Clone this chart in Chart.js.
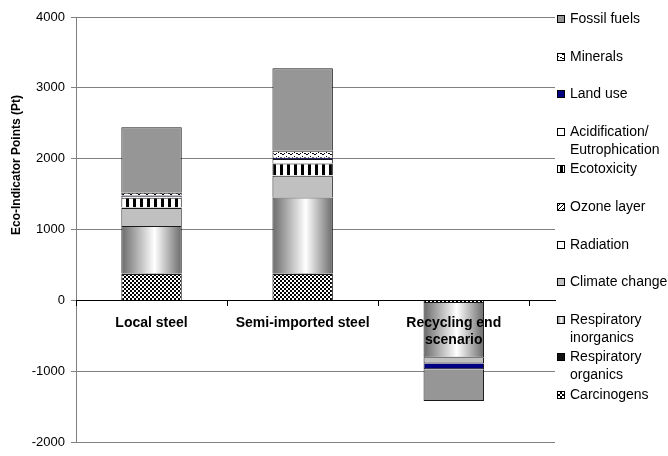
<!DOCTYPE html>
<html>
<head>
<meta charset="utf-8">
<script src="https://cdn.jsdelivr.net/npm/chart.js@4/dist/chart.umd.min.js"></script>
<style>
  html, body { margin: 0; padding: 0; background: #fff; }
  #wrap { width: 668px; height: 456px; }
</style>
</head>
<body>
<div id="wrap"><canvas id="chart" width="668" height="456"></canvas></div>
<script>
// Category labels (multi-line where the reference wraps)
const categories = ['Local steel', 'Semi-imported steel', ['Recycling end', 'scenario']];

// Stacked impact values in Pt, bottom of stack first
const carcinogens    = [375, 375, -35];
const respOrganics   = [5, 5, 0];
const respInorganics = [672, 1074, -775];
const climateChange  = [254, 306, -79];
const radiation      = [5, 5, 0];
const ozoneLayer     = [3, 3, 0];
const ecotoxicity    = [135, 163, 0];
const acidification  = [30, 65, 0];
const landUse        = [5, 18, -83];
const minerals       = [35, 97, 0];
const fossilFuels    = [927, 1167, -445];

// Legend labels, line by line
const seriesLabels = [
    ['Carcinogens'],
    ['Respiratory', 'organics'],
    ['Respiratory', 'inorganics'],
    ['Climate change'],
    ['Radiation'],
    ['Ozone layer'],
    ['Ecotoxicity'],
    ['Acidification/', 'Eutrophication'],
    ['Land use'],
    ['Minerals'],
    ['Fossil fuels']
];
const seriesValues = [carcinogens, respOrganics, respInorganics, climateChange, radiation,
    ozoneLayer, ecotoxicity, acidification, landUse, minerals, fossilFuels];

const yTicks = { min: -2000, max: 4000, step: 1000 };
const yTitle = 'Eco-Indicator Points (Pt)';

// bar width as a share of one category; x ticks sit every half category,
// so the library's sample size is half a category wide
const BAR_PCT = 0.4;
const FONT = "'Liberation Sans', Arial, sans-serif";

// small helper to build repeating fill patterns
function makePattern(w, h, draw) {
    const c = document.createElement('canvas');
    c.width = w;
    c.height = h;
    const g = c.getContext('2d');
    g.fillStyle = '#fff';
    g.fillRect(0, 0, w, h);
    g.fillStyle = '#000';
    draw(g);
    return g.createPattern(c, 'repeat');
}

const checker = makePattern(4, 4, g => { g.fillRect(0, 0, 2, 2); g.fillRect(2, 2, 2, 2); });
const diagDash = makePattern(8, 4, g => {
    g.fillRect(0, 1, 2, 1); g.fillRect(2, 2, 2, 1); g.fillRect(4, 1, 1, 1); g.fillRect(6, 0, 1, 1);
});
const vStripes = makePattern(7, 4, g => { g.fillRect(0, 0, 3, 4); });
const diagOzone = makePattern(4, 4, g => {
    g.fillRect(3, 0, 1, 1); g.fillRect(2, 1, 1, 1); g.fillRect(1, 2, 1, 1); g.fillRect(0, 3, 1, 1);
});

function cylinder(ctx, x0, x1) {
    const g = ctx.createLinearGradient(x0, 0, x1, 0);
    g.addColorStop(0, '#6a6a6a');
    g.addColorStop(0.55, '#ffffff');
    g.addColorStop(1, '#6a6a6a');
    return g;
}

// horizontal "cylinder" gradient across each bar
function barGradient(c) {
    const xs = c.chart.scales.x;
    if (!xs || c.dataIndex === undefined) return '#c8c8c8';
    const cx = xs.getPixelForValue(c.dataIndex);
    const w = (xs.getPixelForValue(1) - xs.getPixelForValue(0)) * BAR_PCT;
    if (!isFinite(cx) || !isFinite(w)) return '#c8c8c8';
    return cylinder(c.chart.ctx, cx - w / 2, cx + w / 2);
}

const fills = [checker, '#111111', barGradient, '#c0c0c0', '#ffffff', diagOzone,
    vStripes, '#ffffff', '#000080', diagDash, '#969696'];

const datasets = seriesValues.map((vals, i) => ({
    label: seriesLabels[i].join(' '),
    data: vals.map((v, j) => ({ x: j, y: v })),
    backgroundColor: fills[i],
    borderColor: '#1a1a1a',
    borderWidth: 1,
    barPercentage: BAR_PCT * 2,
    categoryPercentage: 1
}));

// Legend at the right like the spreadsheet one (multi-line labels) + y title
const sideLegend = {
    id: 'sideLegend',
    afterDraw(chart) {
        const ctx = chart.ctx;
        const top = 19, bottom = 395;
        const n = seriesLabels.length;
        const stepY = (bottom - top) / (n - 1);
        const boxX = 557, textX = 570, box = 8;
        ctx.save();
        ctx.font = '14px ' + FONT;
        ctx.textBaseline = 'middle';
        for (let k = 0; k < n; k++) {
            const i = n - 1 - k;
            const y = Math.round(top + k * stepY);
            let f = fills[i];
            if (typeof f === 'function') f = cylinder(ctx, boxX, boxX + box);
            ctx.fillStyle = f;
            ctx.fillRect(boxX, y - box / 2, box, box);
            ctx.strokeStyle = '#000';
            ctx.lineWidth = 1;
            ctx.strokeRect(boxX + 0.5, y - box / 2 + 0.5, box - 1, box - 1);
            ctx.fillStyle = '#000';
            seriesLabels[i].forEach((line, li) => ctx.fillText(line, textX, y + li * 18));
        }
        // axis title, placed where the spreadsheet put it
        ctx.translate(17, 165);
        ctx.rotate(-Math.PI / 2);
        ctx.font = 'bold 12px ' + FONT;
        ctx.textAlign = 'center';
        ctx.fillText(yTitle, 0, 0);
        ctx.restore();
    }
};

new Chart(document.getElementById('chart'), {
    type: 'bar',
    data: { datasets: datasets },
    plugins: [sideLegend],
    options: {
        responsive: false,
        animation: false,
        layout: { padding: { top: 17, right: 113, bottom: 6, left: 4 } },
        plugins: {
            legend: { display: false },
            tooltip: { enabled: false }
        },
        scales: {
            x: {
                type: 'linear',
                stacked: true,
                offset: false,
                position: { y: 0 },
                min: -0.5,
                max: 2.67,
                grid: {
                    offset: false,
                    drawOnChartArea: false,
                    tickLength: 5,
                    z: 1,
                    tickColor: c => (c.tick && Number.isInteger(c.tick.value)) ? 'rgba(0,0,0,0)' : '#000'
                },
                border: { color: '#000', width: 1, z: 1 },
                ticks: {
                    stepSize: 0.5,
                    includeBounds: false,
                    autoSkip: false,
                    maxRotation: 0,
                    padding: 9,
                    z: 1,
                    color: '#000',
                    font: { family: FONT, size: 14, weight: 'bold' },
                    callback: v => Number.isInteger(v) && categories[v] ? categories[v] : ''
                }
            },
            y: {
                stacked: true,
                min: yTicks.min,
                max: yTicks.max,
                afterFit: s => { s.width = 72; },
                grid: { color: '#808080', tickColor: '#808080', tickLength: 5 },
                border: { color: '#808080' },
                ticks: {
                    stepSize: yTicks.step,
                    padding: 6,
                    color: '#000',
                    font: { family: FONT, size: 13 },
                    callback: v => String(v)
                }
            }
        }
    }
});
</script>
</body>
</html>
